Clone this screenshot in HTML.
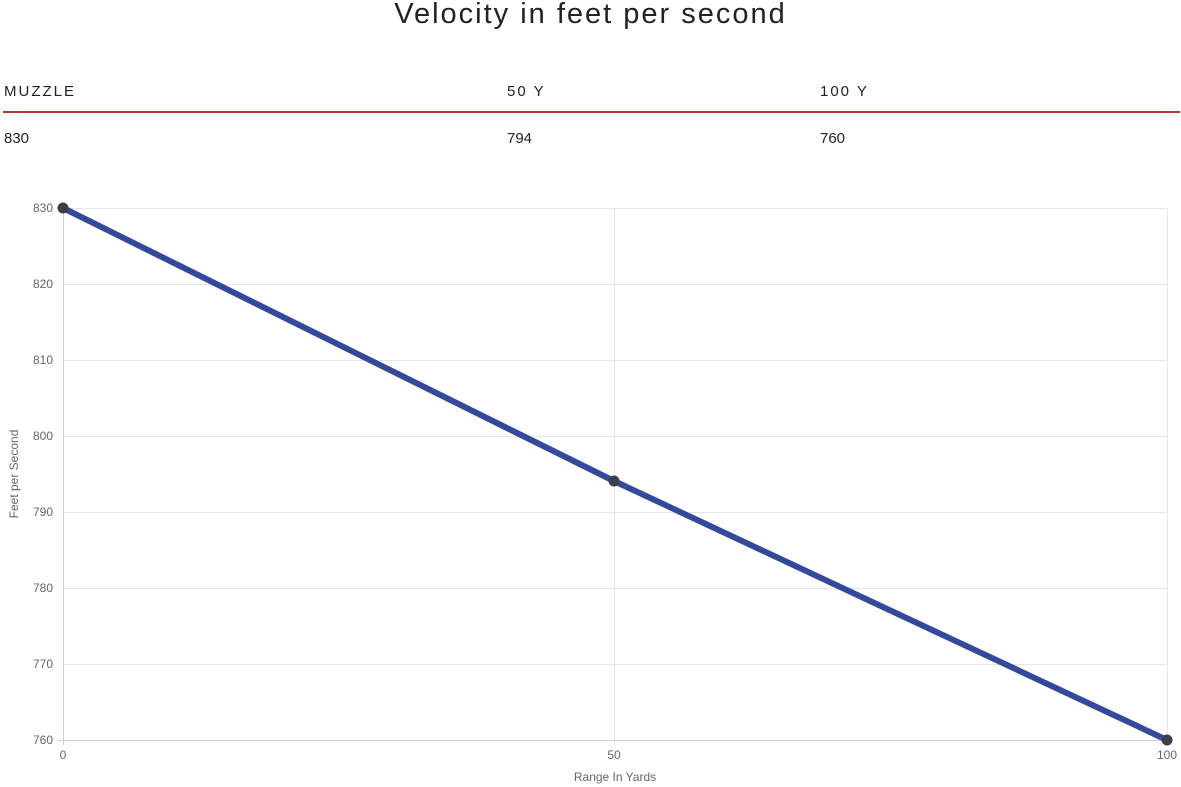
<!DOCTYPE html>
<html><head><style>
body{margin:0;width:1181px;height:787px;background:#fff;font-family:"Liberation Sans",sans-serif;position:relative;overflow:hidden}
.t{position:absolute;white-space:nowrap}
</style></head><body>
<div class="t" style="left:0;width:1181px;text-align:center;top:-2px;font-size:29px;letter-spacing:2px;color:#222">Velocity in feet per second</div>
<div class="t" style="left:4px;top:83px;font-size:15px;letter-spacing:2px;color:#222">MUZZLE</div>
<div class="t" style="left:507px;top:83px;font-size:15px;letter-spacing:2px;color:#222">50 Y</div>
<div class="t" style="left:820px;top:83px;font-size:15px;letter-spacing:2px;color:#222">100 Y</div>
<div style="position:absolute;left:3px;top:111px;width:1177px;height:2px;background:#b03a2e"></div>
<div class="t" style="left:4px;top:130px;font-size:15px;color:#222">830</div>
<div class="t" style="left:507px;top:130px;font-size:15px;color:#222">794</div>
<div class="t" style="left:820px;top:130px;font-size:15px;color:#222">760</div>
<svg width="1181" height="787" style="position:absolute;left:0;top:0" font-family="Liberation Sans, sans-serif">
<g stroke="#e6e6e6" stroke-width="1">
<line x1="63" y1="208.5" x2="1167" y2="208.5"/><line x1="63" y1="284.5" x2="1167" y2="284.5"/>
<line x1="63" y1="360.5" x2="1167" y2="360.5"/><line x1="63" y1="436.5" x2="1167" y2="436.5"/>
<line x1="63" y1="512.5" x2="1167" y2="512.5"/><line x1="63" y1="588.5" x2="1167" y2="588.5"/>
<line x1="63" y1="664.5" x2="1167" y2="664.5"/>
<line x1="614.5" y1="208" x2="614.5" y2="745"/><line x1="1167.5" y1="208" x2="1167.5" y2="745"/>
</g>
<g stroke="#cfcfcf"><line x1="63.5" y1="208" x2="63.5" y2="745"/><line x1="58" y1="740.5" x2="1167" y2="740.5"/></g>
<g font-size="12" fill="#666" text-anchor="end">
<text x="53" y="212">830</text><text x="53" y="288">820</text><text x="53" y="364">810</text><text x="53" y="440">800</text>
<text x="53" y="516">790</text><text x="53" y="592">780</text><text x="53" y="668">770</text><text x="53" y="744">760</text>
</g>
<g font-size="12" fill="#666" text-anchor="middle">
<text x="63" y="759">0</text><text x="614" y="759">50</text><text x="1167" y="759">100</text>
<text x="615" y="781">Range In Yards</text>
<text transform="translate(18,474) rotate(-90)">Feet per Second</text>
</g>
<polyline points="63,208 614,481 1167,740" fill="none" stroke="#34499a" stroke-width="6"/>
<g fill="#3a3f4d"><circle cx="63" cy="208" r="5.5"/><circle cx="614" cy="481" r="5.5"/><circle cx="1167" cy="740" r="5.5"/></g>
</svg>
</body></html>
